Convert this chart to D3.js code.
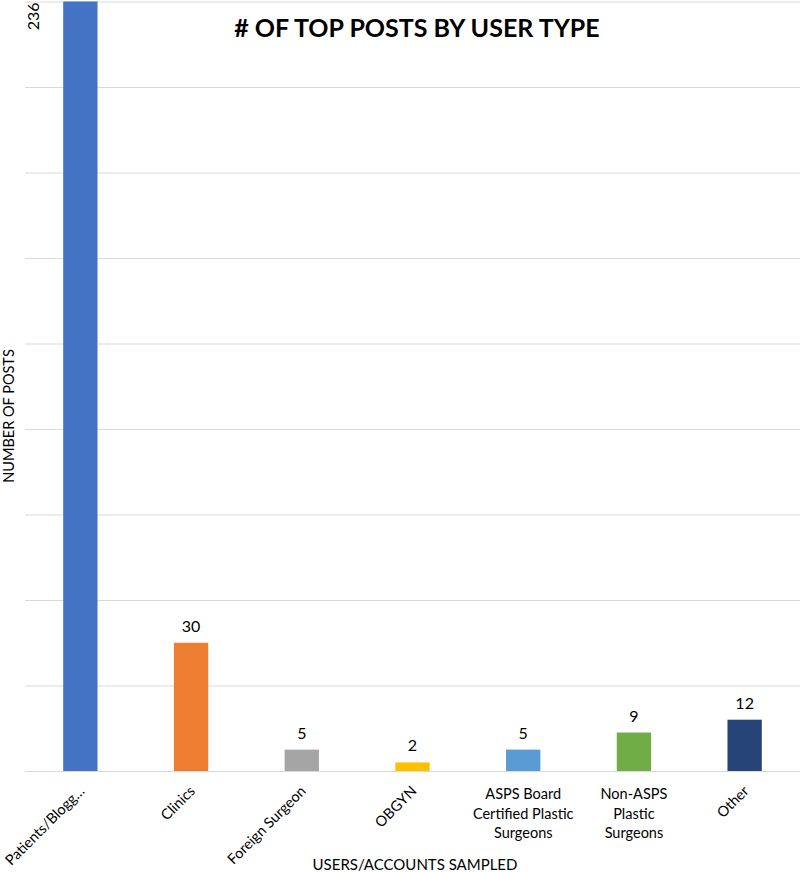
<!DOCTYPE html>
<html>
<head>
<meta charset="utf-8">
<script src="https://cdn.jsdelivr.net/npm/d3@7"></script>
<style>
  body { margin: 0; background: #fff; }
  text { font-family: Lato, "Open Sans", sans-serif; fill: #000; }
</style>
</head>
<body>
<div id="chart"></div>
<script>
// datos del grafico
const categories = ["Patients/Bloggers", "Clinics", "Foreign Surgeon", "OBGYN",
  "ASPS Board Certified Plastic Surgeons", "Non-ASPS Plastic Surgeons", "Other"];
const tickLines = [["Patients/Blogg…"], ["Clinics"], ["Foreign Surgeon"], ["OBGYN"],
  ["ASPS Board", "Certified Plastic", "Surgeons"], ["Non-ASPS", "Plastic", "Surgeons"], ["Other"]];
const posts = [236, 30, 5, 2, 5, 9, 12];
const barColors = ["#4472C4", "#ED7D31", "#A5A5A5", "#FFC000", "#5B9BD5", "#70AD47", "#264478"];
const yTicks = [0, 20, 40, 60, 80, 100, 120, 140, 160, 180];

const width = 800,
  height = 872;
const plot = { left: 25, right: 800, top: 1.5, bottom: 771 };

const svg = d3.select("#chart")
  .append("svg")
  .attr("width", width)
  .attr("height", height);

// escalas
const xScale = d3.scaleBand()
  .domain(categories)
  .range([plot.left, plot.right])
  .paddingInner(0.69)
  .paddingOuter(0.345);

const yScale = d3.scaleLinear()
  .domain([0, d3.max(yTicks)])
  .range([plot.bottom, plot.top])
  .clamp(true);

// lineas de la cuadricula
const grid = svg.append("g")
  .attr("transform", `translate(${plot.left},0)`)
  .call(d3.axisLeft(yScale).tickValues(yTicks).tickSize(-(plot.right - plot.left)).tickFormat(""));
grid.select(".domain").remove();
grid.selectAll(".tick line").attr("stroke", "#d9d9d9").attr("stroke-width", 1);

// barras
const data = categories.map((c, i) => ({ cat: c, value: posts[i], color: barColors[i] }));

svg.append("g")
  .selectAll("rect")
  .data(data)
  .enter()
  .append("rect")
  .attr("x", d => xScale(d.cat))
  .attr("y", d => yScale(d.value))
  .attr("width", xScale.bandwidth())
  .attr("height", d => yScale(0) - yScale(d.value))
  .attr("fill", d => d.color);

// etiquetas de valores (la barra que se sale del eje lleva la etiqueta girada arriba)
const maxY = d3.max(yTicks);
svg.append("g")
  .selectAll("text")
  .data(data)
  .enter()
  .append("text")
  .attr("font-size", 16)
  .attr("text-anchor", d => d.value > maxY ? "end" : "middle")
  .attr("transform", d => d.value > maxY
    ? `translate(${xScale(d.cat) - 24},${yScale(maxY) + 1}) rotate(-90)`
    : `translate(${xScale(d.cat) + xScale.bandwidth() / 2},${yScale(d.value) - 11})`)
  .text(d => d.value);

// eje X
const xAxis = svg.append("g")
  .attr("transform", `translate(0,${plot.bottom})`)
  .call(d3.axisBottom(xScale).tickSize(0).tickFormat(""));
xAxis.select(".domain").remove();

xAxis.selectAll(".tick").each(function (c, i) {
  const lines = tickLines[i];
  const t = d3.select(this).append("text")
    .attr("font-size", 14.5)
    .attr("fill", "#000");
  if (lines.length > 1) {
    t.attr("text-anchor", "middle");
    lines.forEach((l, k) => {
      t.append("tspan").attr("x", 0).attr("y", 28 + k * 19.5).text(l);
    });
  } else {
    t.attr("text-anchor", "end")
      .attr("transform", "translate(5,21) rotate(-45)")
      .text(lines[0]);
  }
});

// titulos
svg.append("text")
  .attr("x", 417)
  .attr("y", 37)
  .attr("text-anchor", "middle")
  .attr("font-size", 25)
  .attr("font-weight", "bold")
  .text("# OF TOP POSTS BY USER TYPE");

svg.append("text")
  .attr("text-anchor", "middle")
  .attr("font-size", 14.5)
  .attr("transform", "translate(14,416) rotate(-90)")
  .text("NUMBER OF POSTS");

svg.append("text")
  .attr("x", 415)
  .attr("y", 870)
  .attr("text-anchor", "middle")
  .attr("font-size", 15)
  .text("USERS/ACCOUNTS SAMPLED");
</script>
</body>
</html>
